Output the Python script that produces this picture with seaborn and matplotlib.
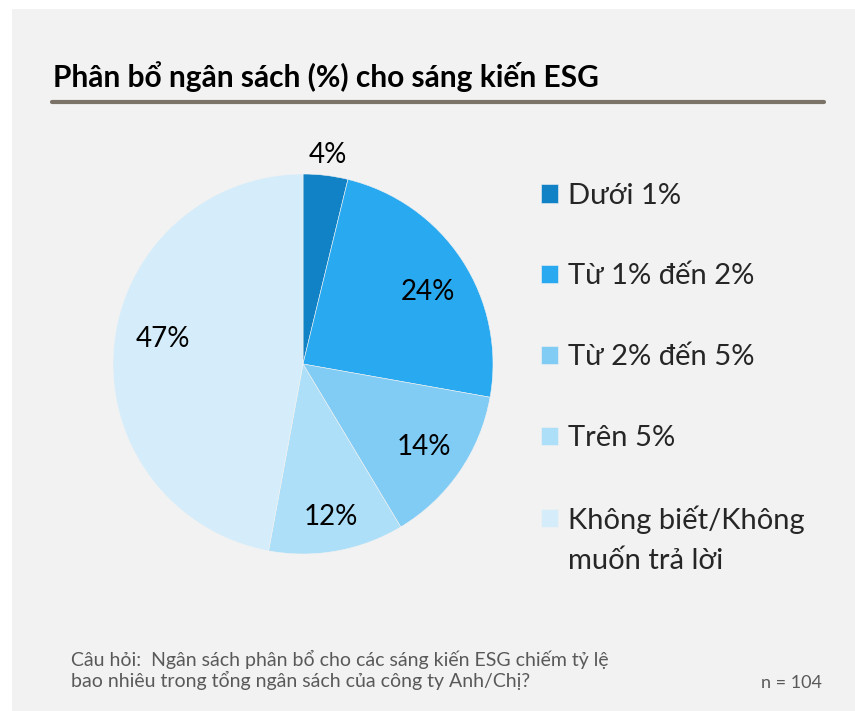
import numpy as np
import pandas as pd
import seaborn as sns
import matplotlib.pyplot as plt
from matplotlib.patches import Rectangle
from matplotlib.lines import Line2D

# data
categories = ['Dưới 1%', 'Từ 1% đến 2%', 'Từ 2% đến 5%', 'Trên 5%',
              'Không biết/Không\nmuốn trả lời']
# slice sizes (n = 104)
shares = [3.8, 24.0, 13.6, 11.5, 47.1]
# percentages printed on the slices
pct_labels = ['4%', '24%', '14%', '12%', '47%']
colors = ['#1182c5', '#29a9ef', '#80ccf5', '#addff8', '#d5edfa']

title = 'Phân bổ ngân sách (%) cho sáng kiến ESG'
note = 'Câu hỏi:  Ngân sách phân bổ cho các sáng kiến ESG chiếm tỷ lệ\nbao nhiêu trong tổng ngân sách của công ty Anh/Chị?'
n_text = 'n = 104'

# label placement (radius fraction, angle nudge in degrees, like excel's best fit)
label_dist = [1.11, 0.76, 0.77, 0.82, 0.75]
label_nudge = [0, -3, 0, 0, -5]

sns.set_theme(style='white')
plt.rcParams['font.family'] = ['Lato', 'Noto Sans', 'DejaVu Sans']

W, H = 855, 711
fig = plt.figure(figsize=(W / 100, H / 100), dpi=100, facecolor='white')

# grey panel behind everything
fig.patches.append(Rectangle((12 / W, 0), 1 - 12 / W, (H - 9) / H,
                             transform=fig.transFigure, facecolor='#f2f2f2',
                             edgecolor='none', zorder=-5))

fig.text(53 / W, 1 - 87 / H, title, fontsize=21.5, fontweight='bold',
         color='black', va='baseline', ha='left')
fig.lines.append(Line2D([52 / W, 824 / W], [1 - 102 / H, 1 - 102 / H],
                        transform=fig.transFigure, color='#7b7268', lw=3))

# pie
cx, cy, r = 303, 364, 190
ax = fig.add_axes([(cx - r) / W, (H - cy - r) / H, 2 * r / W, 2 * r / H])
ax.set_facecolor('none')
wedges, texts, autotexts = ax.pie(
    shares, colors=colors, startangle=90, counterclock=False,
    autopct=lambda p: '', pctdistance=0.77,
    wedgeprops=dict(edgecolor='#f2f2f2', linewidth=0.4))
for w, t, lab, d, nd in zip(wedges, autotexts, pct_labels, label_dist, label_nudge):
    t.set_text(lab)
    t.set_fontsize(20)
    t.set_color('black')
    ang = np.deg2rad((w.theta1 + w.theta2) / 2 + nd)
    t.set_position((d * np.cos(ang), d * np.sin(ang)))
ax.set_xlim(-1, 1)
ax.set_ylim(-1, 1)
ax.axis('off')

fs = 21
leg = fig.legend(wedges, categories, loc='upper left',
                 bbox_to_anchor=(529 / W, 1 - 171 / H), frameon=False,
                 fontsize=fs, handlelength=0.6, handleheight=0.6,
                 handletextpad=0.35, labelspacing=1.88, borderaxespad=0)
for t in leg.get_texts():
    t.set_linespacing(1.65)
# square of the two-line entry sits next to the first line
h = leg.legend_handles[-1]
h.set_y(h.get_y() + 16)

fig.text(71 / W, 1 - 650 / H, note, fontsize=14, color='#595959',
         va='top', ha='left', linespacing=1.1)
fig.text(822 / W, 1 - 688 / H, n_text, fontsize=13, color='#595959',
         va='baseline', ha='right')

fig.savefig('out.png', dpi=100, facecolor='white')
